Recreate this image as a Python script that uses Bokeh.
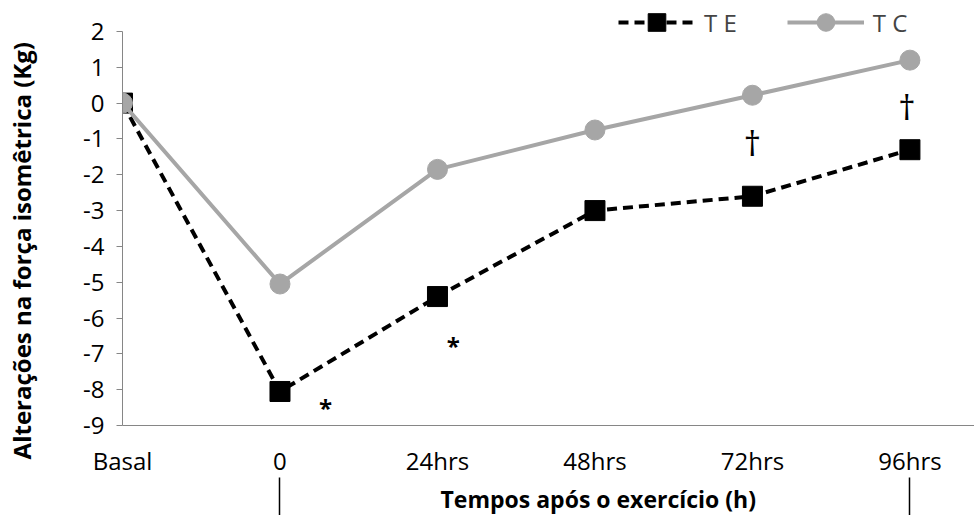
from bokeh.plotting import figure
from bokeh.models import (Range1d, FixedTicker, Legend, LegendItem, Label, LinearAxis, Title)
from bokeh.embed import file_html
from bokeh.resources import INLINE

categories = ["Basal", "0", "24hrs", "48hrs", "72hrs", "96hrs"]
te_values = [0, -8.05, -5.4, -3.0, -2.6, -1.3]
tc_values = [0, -5.05, -1.85, -0.75, 0.22, 1.2]
y_ticks = list(range(-9, 3))

# significance marks: (text, category position, value)
marks_text = ["*", "*", "\u2020", "\u2020"]
marks_x = [1.29, 2.1, 4.0, 4.98]
marks_y = [-8.5, -6.77, -1.1, -0.12]

y_title = "Altera\u00e7\u00f5es na for\u00e7a isom\u00eatrica (Kg)"
x_title = "Tempos ap\u00f3s o exerc\u00edcio (h)"

FONT = "Open Sans"
GRAY = "#A6A6A6"
AXIS_GRAY = "#868686"

xs = list(range(len(categories)))

p = figure(width=974, height=515, x_range=Range1d(0, 5.41), y_range=Range1d(-9, 2.865),
           output_backend="svg", toolbar_location=None,
           x_axis_location=None, y_axis_location=None,
           min_border_left=122, min_border_right=0, min_border_top=0, min_border_bottom=90)
p.outline_line_color = None
p.xgrid.visible = False
p.ygrid.visible = False
p.background_fill_color = "white"

# main y axis (drawn only over the data span)
yax = LinearAxis(ticker=FixedTicker(ticks=y_ticks), bounds=(-9, 2),
                 major_label_overrides={v: str(v) for v in y_ticks},
                 major_label_text_font=FONT, major_label_text_font_size="24px",
                 major_label_text_color="#000000", axis_line_color=AXIS_GRAY,
                 major_tick_line_color=AXIS_GRAY, major_tick_out=6, major_tick_in=0,
                 minor_tick_line_color=None, major_label_standoff=12)
p.add_layout(yax, "left")

# y title as a second left axis whose single label sits at the title's centre value
y_title_pos = -4.12
ytit = LinearAxis(ticker=FixedTicker(ticks=[y_title_pos]),
                  major_label_overrides={y_title_pos: y_title},
                  major_label_orientation="vertical",
                  major_label_text_font=FONT, major_label_text_font_size="24px",
                  major_label_text_font_style="bold", major_label_text_color="#000000",
                  axis_line_color=None, major_tick_line_color=None, major_tick_out=0,
                  major_tick_in=0, minor_tick_line_color=None, major_label_standoff=42)
p.add_layout(ytit, "left")

# main x axis with category labels; minor ticks draw the bracket bars under "0" and "96hrs"
xax = LinearAxis(ticker=FixedTicker(ticks=xs, minor_ticks=[xs[1], xs[5]]),
                 major_label_overrides={i: c for i, c in enumerate(categories)},
                 major_label_text_font=FONT, major_label_text_font_size="24px",
                 major_label_text_color="#000000", axis_line_color=AXIS_GRAY,
                 major_tick_line_color=None, major_tick_out=0, major_tick_in=0,
                 minor_tick_line_color="black", minor_tick_line_width=1.5,
                 minor_tick_in=-52, minor_tick_out=92, major_label_standoff=18 - 92)
p.add_layout(xax, "below")

# x title
p.add_layout(Title(text=x_title, align="left", offset=318, text_font=FONT,
                   text_font_size="23px", text_font_style="bold", text_color="#000000",
                   standoff=2), "below")

# series
te_line = p.line(xs, te_values, line_color="black", line_width=4, line_dash="10 6")
te_pts = p.scatter(xs, te_values, marker="square", size=20, fill_color="black", line_color="black")
tc_line = p.line(xs, tc_values, line_color=GRAY, line_width=4)
tc_pts = p.scatter(xs, tc_values, marker="circle", size=20, fill_color=GRAY, line_color=GRAY)

# significance marks
for t, mx, my in zip(marks_text, marks_x, marks_y):
    big = t != "*"
    p.add_layout(Label(x=mx, y=my, text=t, text_font=FONT,
                       text_font_size="34px" if big else "24px",
                       text_font_style="normal" if big else "bold",
                       text_align="center", text_baseline="middle", text_color="black"))

legend = Legend(items=[LegendItem(label="T E", renderers=[te_line, te_pts]),
                       LegendItem(label="T C", renderers=[tc_line, tc_pts])],
                orientation="horizontal", location=(496, 381),
                label_text_font=FONT, label_text_font_size="24px",
                glyph_width=77, glyph_height=44, label_height=44, label_standoff=9,
                spacing=50, padding=0, margin=0, border_line_color=None,
                background_fill_alpha=0)
p.add_layout(legend, "center")

open("out.html", "w").write(file_html(p, INLINE))
